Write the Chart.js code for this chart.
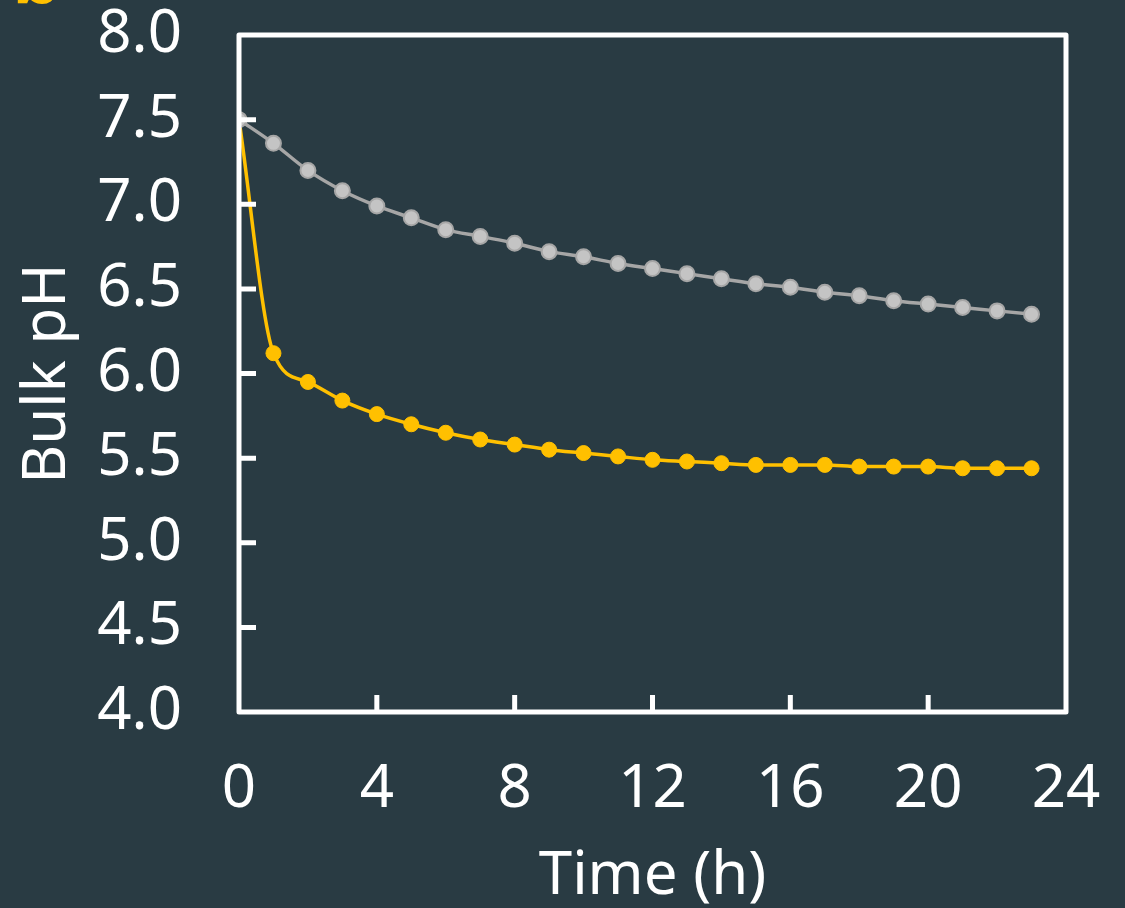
<!DOCTYPE html>
<html>
<head>
<meta charset="utf-8">
<script src="https://cdn.jsdelivr.net/npm/chart.js@4"></script>
<style>
  html, body { margin: 0; padding: 0; background: #293b43; }
  #wrap { width: 1125px; height: 908px; }
</style>
</head>
<body>
<div id="wrap"><canvas id="ph" width="1125" height="908"></canvas></div>
<script>
// hours since start
const hours = [0,1,2,3,4,5,6,7,8,9,10,11,12,13,14,15,16,17,18,19,20,21,22,23];
// bulk pH, grey series
const phGrey = [7.50,7.36,7.20,7.08,6.99,6.92,6.85,6.81,6.77,6.72,6.69,6.65,6.62,6.59,6.56,6.53,6.51,6.48,6.46,6.43,6.41,6.39,6.37,6.35];
// bulk pH, yellow series
const phYellow = [7.50,6.12,5.95,5.84,5.76,5.70,5.65,5.61,5.58,5.55,5.53,5.51,5.49,5.48,5.47,5.46,5.46,5.46,5.45,5.45,5.45,5.44,5.44,5.44];
const xTicks = [0,4,8,12,16,20,24];
const yTicks = [4.0,4.5,5.0,5.5,6.0,6.5,7.0,7.5,8.0];

const FONT = "'Noto Sans', 'Open Sans', sans-serif";
const WHITE = '#ffffff';

function pts(vals) {
  return hours.map((h, i) => ({x: h, y: vals[i]}));
}

function noPad(s) {
  s.paddingTop = 0; s.paddingBottom = 0; s.paddingLeft = 0; s.paddingRight = 0;
}

// frame + inward ticks
const frame = {
  id: 'frame',
  afterDatasetsDraw(chart) {
    const {ctx, chartArea: a, scales} = chart;
    ctx.save();
    ctx.strokeStyle = WHITE;
    ctx.lineWidth = 5;
    ctx.beginPath();
    xTicks.slice(1, -1).forEach(v => {
      const px = scales.x.getPixelForValue(v);
      ctx.moveTo(px, a.bottom);
      ctx.lineTo(px, a.bottom - 17);
    });
    yTicks.slice(1, -1).forEach(v => {
      const py = scales.y.getPixelForValue(v);
      ctx.moveTo(a.left, py);
      ctx.lineTo(a.left + 17, py);
    });
    ctx.stroke();
    ctx.lineJoin = 'round';
    ctx.strokeRect(a.left, a.top, a.right - a.left, a.bottom - a.top);
    // panel letter, cut off at the top edge
    ctx.fillStyle = '#ffc000';
    ctx.font = "bold 80px " + FONT;
    ctx.textBaseline = 'alphabetic';
    ctx.fillText('b', 12, 4);
    ctx.restore();
  }
};

new Chart(document.getElementById('ph'), {
  type: 'line',
  data: {
    datasets: [{
      data: pts(phGrey),
      borderColor: '#a6a6a6',
      borderWidth: 3.5,
      pointRadius: 7.5,
      pointBackgroundColor: '#c4c4c4',
      pointBorderColor: '#a6a6a6',
      pointBorderWidth: 2,
      cubicInterpolationMode: 'monotone'
    }, {
      data: pts(phYellow),
      borderColor: '#ffc000',
      borderWidth: 3.5,
      pointRadius: 7.5,
      pointBackgroundColor: '#ffc000',
      pointBorderColor: '#ffc000',
      pointBorderWidth: 1,
      cubicInterpolationMode: 'monotone'
    }]
  },
  options: {
    responsive: false,
    animation: false,
    layout: { padding: { top: 35, right: 59, bottom: 0, left: 0 } },
    plugins: { legend: { display: false }, tooltip: { enabled: false } },
    scales: {
      x: {
        type: 'linear',
        min: 0, max: 24,
        afterFit: s => { s.height = 196; noPad(s); },
        afterBuildTicks: s => { s.ticks = xTicks.map(v => ({value: v})); },
        grid: { display: false, drawTicks: false },
        border: { display: false },
        ticks: { color: WHITE, font: { family: FONT, size: 60 }, padding: 42, maxRotation: 0 },
        title: { display: true, text: 'Time (h)', color: WHITE, font: { family: FONT, size: 60 }, padding: { top: 0, bottom: -5 } }
      },
      y: {
        min: 4, max: 8,
        afterFit: s => { s.width = 239; noPad(s); },
        afterBuildTicks: s => { s.ticks = yTicks.map(v => ({value: v})); },
        grid: { display: false, drawTicks: false },
        border: { display: false },
        ticks: { color: WHITE, font: { family: FONT, size: 60 }, padding: 57, callback: v => v.toFixed(1) },
        title: { display: true, text: 'Bulk pH', color: WHITE, font: { family: FONT, size: 60 }, padding: { top: 12, bottom: 0 } }
      }
    }
  },
  plugins: [frame]
});
</script>
</body>
</html>
